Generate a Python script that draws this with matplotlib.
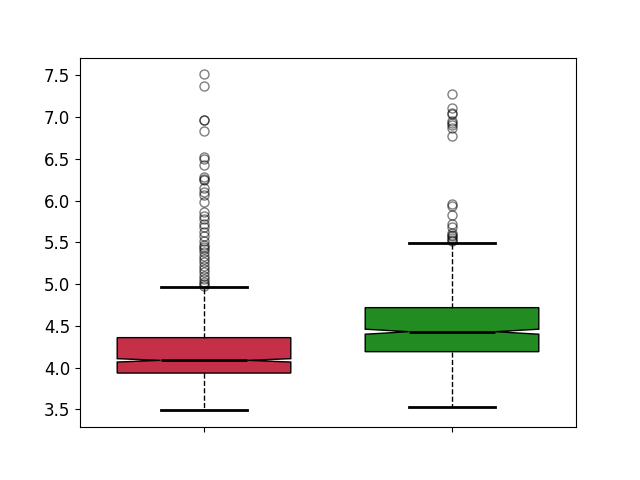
import matplotlib

matplotlib.use("Agg")
import matplotlib.pyplot as plt

# Box statistics
positions = [1, 2]
medians = [4.087, 4.43]
q1 = [3.935, 4.191]
q3 = [4.359, 4.718]
ci_lo = [4.067, 4.40]
ci_hi = [4.107, 4.46]
whisk_lo = [3.488, 3.532]
whisk_hi = [4.961, 5.488]
box_colors = ["#C52F48", "#228B22"]

fliers_red = [
    7.51, 7.37, 6.97, 6.96, 6.83, 6.52, 6.50, 6.42, 6.28, 6.26, 6.25,
    6.15, 6.10, 6.07, 5.98, 5.86, 5.82, 5.78, 5.72, 5.68, 5.62, 5.58,
    5.52, 5.47, 5.44, 5.42, 5.38, 5.34, 5.30, 5.26, 5.22, 5.18, 5.14,
    5.10, 5.06, 5.03, 5.00, 4.98,
]
fliers_green = [
    7.28, 7.11, 7.05, 7.03, 6.95, 6.93, 6.90, 6.87, 6.77,
    5.96, 5.93, 5.83, 5.72, 5.68, 5.61, 5.59, 5.57, 5.55, 5.53, 5.51,
]

stats = []
for i, fl in enumerate([fliers_red, fliers_green]):
    stats.append({
        "med": medians[i],
        "q1": q1[i],
        "q3": q3[i],
        "cilo": ci_lo[i],
        "cihi": ci_hi[i],
        "whislo": whisk_lo[i],
        "whishi": whisk_hi[i],
        "fliers": fl,
    })

fig, ax = plt.subplots(figsize=(6.4, 4.8), dpi=100)

bp = ax.bxp(
    stats,
    positions=positions,
    widths=0.7,
    shownotches=True,
    patch_artist=True,
    boxprops=dict(edgecolor="black", linewidth=1.0),
    medianprops=dict(color="black", linewidth=2.0),
    whiskerprops=dict(color="black", linestyle="--", linewidth=1.0),
    capprops=dict(color="black", linewidth=2.0),
    flierprops=dict(marker="o", markerfacecolor="none",
                    markeredgecolor="black", alpha=0.5, markersize=6.5),
)
for patch, c in zip(bp["boxes"], box_colors):
    patch.set_facecolor(c)

ax.set_xticks(positions)
ax.set_xticklabels(["", ""])
ax.tick_params(axis="y", labelsize=12)

fig.savefig("out.png", dpi=100)
